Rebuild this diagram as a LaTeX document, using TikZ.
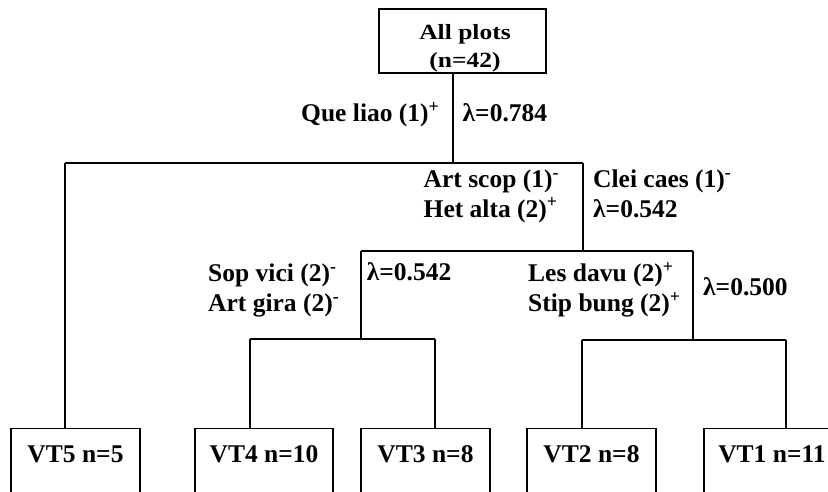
\documentclass[tikz,border=0pt]{standalone}
\usepackage{fontspec}
\usepackage{graphicx}
\setmainfont{Liberation Serif}
\newcommand{\twolines}[2]{\begin{tabular}[t]{@{}l@{}}#1\\#2\end{tabular}}
\begin{document}
\begin{tikzpicture}[x=1pt,y=-1pt,
  line/.style={line width=1.2pt, draw=black},
  txt/.style={font=\fontsize{25.5}{29.5}\selectfont\bfseries, inner sep=0pt},
  leaf/.style={txt, draw=black, line width=1.2pt, anchor=north, text height=33.5pt, text depth=80pt},
  lab/.style={txt, anchor=base west}]
\useasboundingbox (0,0) rectangle (828,491);
\clip (0,0) rectangle (828,491);

% root box and its text
\node[draw=black, line width=1.2pt, minimum width=167pt, minimum height=64pt, inner sep=0pt] (root) at (462.5,41) {};
\node[txt, anchor=base, font=\fontsize{25.5}{33.5}\selectfont\bfseries] (roottext) at (465,39.3)
  {\scalebox{1}[0.85]{\begin{tabular}[t]{@{}c@{}}All plots\\(n=42)\end{tabular}}};

% leaves
\node[leaf, minimum width=129pt] (vt5) at (75.5,428) {VT5 n=5};
\node[leaf, minimum width=138pt] (vt4) at (264,428) {VT4 n=10};
\node[leaf, minimum width=129pt] (vt3) at (425.5,428) {VT3 n=8};
\node[leaf, minimum width=129pt] (vt2) at (591.5,428) {VT2 n=8};
\node[leaf, minimum width=136pt] (vt1) at (772,428) {VT1 n=11};

% junctions
\coordinate (j1) at (453,163);
\coordinate (a) at (65,163);
\coordinate (b) at (583,163);
\coordinate (b2) at (583,251);
\coordinate (c) at (361,251);
\coordinate (d) at (693,251);
\coordinate (c2) at (361,339);
\coordinate (c3) at (250,339);
\coordinate (c4) at (435,339);
\coordinate (d2) at (693,340);
\coordinate (d3) at (582,340);
\coordinate (d4) at (786,340);

% connectors
\draw[line] (root.south -| j1) -- (j1);
\draw[line] (a) -- (b);
\draw[line] (a) -- (a |- vt5.north);
\draw[line] (b) -- (b2);
\draw[line] (c) -- (d);
\draw[line] (c) -- (c2);
\draw[line] (c3) -- (c4);
\draw[line] (c3) -- (c3 |- vt4.north);
\draw[line] (c4) -- (c4 |- vt3.north);
\draw[line] (d) -- (d2);
\draw[line] (d3) -- (d4);
\draw[line] (d3) -- (d3 |- vt2.north);
\draw[line] (d4) -- (d4 |- vt1.north);

% labels
\node[lab] (l1) at (301,121.5) {Que liao (1)\textsuperscript{+}};
\node[lab] (l2) at (462.5,121.5) {λ=0.784};
\node[lab] (l3) at (423.5,187.5) {\twolines{Art scop (1)\textsuperscript{-}}{Het alta (2)\textsuperscript{+}}};
\node[lab] (l4) at (593,187.5) {\twolines{Clei caes (1)\textsuperscript{-}}{λ=0.542}};
\node[lab] (l5) at (208,281.7) {\twolines{Sop vici (2)\textsuperscript{-}}{Art gira (2)\textsuperscript{-}}};
\node[lab] (l6) at (366.7,280) {λ=0.542};
\node[lab] (l7) at (528,281.7) {\twolines{Les davu (2)\textsuperscript{+}}{Stip bung (2)\textsuperscript{+}}};
\node[lab] (l8) at (703,295) {λ=0.500};
\end{tikzpicture}
\end{document}
